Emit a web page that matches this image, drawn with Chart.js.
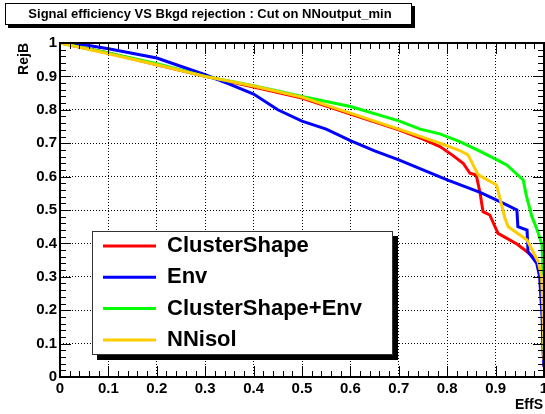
<!DOCTYPE html>
<html>
<head>
<meta charset="utf-8">
<script src="https://cdn.jsdelivr.net/npm/chart.js@4.4.0/dist/chart.umd.min.js"></script>
<style>
body { margin: 0; background: #fff; }
canvas { display: block; }
</style>
</head>
<body>
<canvas id="ctx" width="545" height="414"></canvas>
<script>
const titleText = "Signal efficiency VS Bkgd rejection : Cut on NNoutput_min";
const xTitle = "EffS";
const yTitle = "RejB";
const seriesNames = ["ClusterShape", "Env", "ClusterShape+Env", "NNisol"];
const seriesColors = ["#ff0000", "#0000ff", "#00ff00", "#ffcc00"];
const tickValues = [0, 0.1, 0.2, 0.3, 0.4, 0.5, 0.6, 0.7, 0.8, 0.9, 1];

// ClusterShape
const clusterEff = [0, 0.1, 0.2, 0.3, 0.4, 0.5, 0.6, 0.7, 0.75, 0.785, 0.81, 0.833, 0.847, 0.86, 0.868, 0.874, 0.888, 0.905, 0.944, 0.965, 0.985, 0.993, 0.997, 1];
const clusterRej = [1, 0.97, 0.935, 0.9, 0.868, 0.835, 0.787, 0.74, 0.712, 0.69, 0.665, 0.64, 0.61, 0.605, 0.55, 0.495, 0.485, 0.43, 0.398, 0.375, 0.35, 0.3, 0.2, 0.03];

// Env
const envEff = [0, 0.05, 0.1, 0.2, 0.3, 0.35, 0.4, 0.45, 0.5, 0.55, 0.6, 0.65, 0.7, 0.8, 0.868, 0.909, 0.944, 0.946, 0.965, 0.967, 0.985, 0.991, 0.996, 0.998, 1];
const envRej = [1, 0.995, 0.983, 0.955, 0.905, 0.877, 0.847, 0.8, 0.766, 0.742, 0.708, 0.677, 0.65, 0.59, 0.553, 0.525, 0.5, 0.45, 0.44, 0.375, 0.34, 0.3, 0.18, 0.08, 0.03];

// ClusterShape+Env
const bothEff = [0, 0.1, 0.2, 0.3, 0.4, 0.5, 0.6, 0.7, 0.744, 0.785, 0.826, 0.862, 0.903, 0.923, 0.957, 0.964, 0.975, 0.986, 0.996, 0.998, 1];
const bothRej = [1, 0.97, 0.938, 0.9, 0.872, 0.84, 0.81, 0.767, 0.742, 0.728, 0.705, 0.68, 0.65, 0.635, 0.59, 0.54, 0.48, 0.44, 0.395, 0.3, 0.08];

// NNisol
const nnEff = [0, 0.1, 0.2, 0.3, 0.4, 0.5, 0.6, 0.7, 0.785, 0.826, 0.843, 0.864, 0.902, 0.919, 0.926, 0.965, 0.988, 0.995, 0.999, 1];
const nnRej = [1, 0.968, 0.935, 0.9, 0.871, 0.838, 0.79, 0.742, 0.7, 0.678, 0.665, 0.605, 0.575, 0.477, 0.45, 0.41, 0.345, 0.3, 0.15, 0.05];

function toPoints(xs, ys) {
    return xs.map((x, i) => ({x: x, y: ys[i]}));
}

const allSeries = [
    toPoints(clusterEff, clusterRej),
    toPoints(envEff, envRej),
    toPoints(bothEff, bothRej),
    toPoints(nnEff, nnRej)
];

var FONT = "'Liberation Sans', Arial, Helvetica, sans-serif";

function fmtTick(v) {
    return String(Number(v.toFixed(1)));
}

// ROOT-like frame, ticks, titles and legend box
const rootStyle = {
    id: 'rootStyle',
    afterDraw(chart) {
        const c = chart.ctx;
        const a = chart.chartArea;
        const xs = chart.scales.x;
        const ys = chart.scales.y;
        c.save();
        c.strokeStyle = '#000';
        c.lineWidth = 1;
        c.beginPath();
        for (let i = 0; i <= 50; i++) {
            const v = i / 50;
            const len = i % 5 == 0 ? 11 : 6;
            const px = Math.round(xs.getPixelForValue(v)) + 0.5;
            const py = Math.round(ys.getPixelForValue(v)) + 0.5;
            c.moveTo(px, a.bottom); c.lineTo(px, a.bottom - len);
            c.moveTo(px, a.top); c.lineTo(px, a.top + len);
            c.moveTo(a.left, py); c.lineTo(a.left + len, py);
            c.moveTo(a.right, py); c.lineTo(a.right - len, py);
        }
        c.stroke();
        c.lineWidth = 2;
        c.strokeRect(a.left, a.top, a.right - a.left, a.bottom - a.top);

        // axis titles
        c.fillStyle = '#000';
        c.font = "bold 14px " + FONT;
        c.textAlign = 'right';
        c.textBaseline = 'alphabetic';
        c.fillText(xTitle, 543, 409);
        c.save();
        c.translate(28, a.top);
        c.rotate(-Math.PI / 2);
        c.fillText(yTitle, 0, 0);
        c.restore();

        // title box
        c.fillStyle = '#000';
        c.fillRect(8, 6, 407, 22);
        c.fillStyle = '#fff';
        c.fillRect(5, 3, 407, 22);
        c.lineWidth = 1;
        c.strokeRect(5.5, 3.5, 406, 21);
        c.fillStyle = '#000';
        c.font = "bold 13px " + FONT;
        c.textAlign = 'center';
        c.textBaseline = 'middle';
        c.fillText(titleText, 210, 14.5);

        // legend
        c.fillStyle = '#000';
        c.fillRect(97, 236, 301, 124);
        c.fillStyle = '#fff';
        c.fillRect(92, 231, 301, 124);
        c.strokeStyle = '#333';
        c.strokeRect(92.5, 231.5, 300, 123);
        c.font = "bold 22px " + FONT;
        c.textAlign = 'left';
        chart.data.datasets.forEach((ds, i) => {
            const y = 246 + i * 31.3;
            c.strokeStyle = ds.borderColor;
            c.lineWidth = 3;
            c.beginPath();
            c.moveTo(103, y);
            c.lineTo(156, y);
            c.stroke();
            c.fillStyle = '#000';
            c.fillText(ds.label, 167, y);
        });
        c.restore();
    }
};

new Chart(document.getElementById('ctx'), {
    type: 'scatter',
    data: {
        datasets: allSeries.map((pts, i) => ({
            label: seriesNames[i],
            data: pts,
            showLine: true,
            borderColor: seriesColors[i],
            backgroundColor: seriesColors[i],
            borderWidth: 3,
            pointRadius: 0,
            tension: 0,
            order: 4 - i
        }))
    },
    options: {
        responsive: false,
        animation: false,
        devicePixelRatio: 1,
        layout: {padding: {top: 43, right: 1, left: 0, bottom: 0}},
        plugins: {
            legend: {display: false},
            tooltip: {enabled: false}
        },
        scales: {
            x: {
                type: 'linear',
                min: 0,
                max: 1,
                afterBuildTicks: (s) => { s.ticks = tickValues.map(v => ({value: v})); },
                ticks: {
                    callback: fmtTick,
                    color: '#000',
                    font: {family: FONT, size: 15, weight: 'bold'},
                    padding: 3,
                    maxRotation: 0,
                    autoSkip: false
                },
                grid: {color: '#000', lineWidth: 1, drawTicks: false},
                border: {display: false, dash: [1, 2]},
                afterFit: (s) => { s.height = 37; s.paddingLeft = 0; s.paddingRight = 0; }
            },
            y: {
                type: 'linear',
                min: 0,
                max: 1,
                afterBuildTicks: (s) => { s.ticks = tickValues.map(v => ({value: v})); },
                ticks: {
                    callback: fmtTick,
                    color: '#000',
                    font: {family: FONT, size: 15, weight: 'bold'},
                    padding: 3,
                    autoSkip: false
                },
                grid: {color: '#000', lineWidth: 1, drawTicks: false},
                border: {display: false, dash: [1, 2]},
                afterFit: (s) => { s.width = 60; s.paddingTop = 0; s.paddingBottom = 0; }
            }
        }
    },
    plugins: [rootStyle]
});
</script>
</body>
</html>
